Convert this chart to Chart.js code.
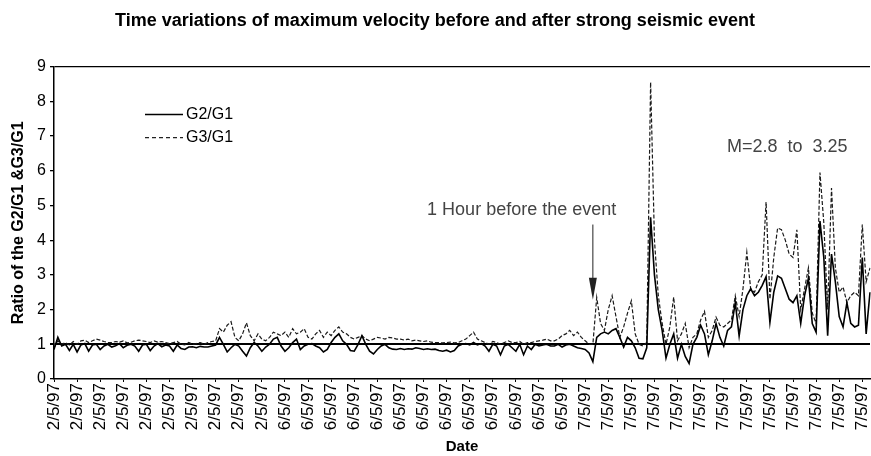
<!DOCTYPE html>
<html>
<head>
<meta charset="utf-8">
<title>Time variations of maximum velocity</title>
<script src="https://cdn.jsdelivr.net/npm/chart.js@4.4.0/dist/chart.umd.min.js"></script>
<style>
  html, body { margin: 0; padding: 0; background: #fff; }
</style>
</head>
<body>
<canvas id="velocityChart" width="871" height="456"></canvas>
<script>
// tick labels along the date axis (one every 6 samples)
const tickDates = [
  '2/5/97','2/5/97','2/5/97','2/5/97','2/5/97','2/5/97','2/5/97','2/5/97','2/5/97','2/5/97',
  '6/5/97','6/5/97','6/5/97','6/5/97','6/5/97','6/5/97','6/5/97','6/5/97','6/5/97','6/5/97','6/5/97','6/5/97','6/5/97',
  '7/5/97','7/5/97','7/5/97','7/5/97','7/5/97','7/5/97','7/5/97','7/5/97','7/5/97','7/5/97','7/5/97','7/5/97','7/5/97'
];
const samplesPerTick = 6;

// G2/G1 ratio
const g2g1 = [
  0.85, 1.2, 0.95, 1.0, 0.82, 1.0, 0.78, 0.98, 1.02, 0.8,
  0.98, 1.0, 0.85, 0.95, 1.0, 0.92, 0.96, 1.02, 0.9, 0.97,
  1.0, 0.95, 0.8, 0.98, 1.0, 0.82, 0.95, 1.02, 0.93, 0.98,
  0.95, 0.8, 0.98, 0.88, 0.85, 0.92, 0.93, 0.9, 0.94, 0.92,
  0.92, 0.95, 0.98, 1.2, 1.0, 0.78, 0.9, 1.0, 0.95, 0.8,
  0.66, 0.9, 1.05, 0.95, 0.8, 0.92, 1.0, 1.15, 1.2, 0.95,
  0.8, 0.9, 1.05, 1.15, 0.85, 0.95, 1.0, 1.02, 0.95, 0.9,
  0.78, 0.85, 1.05, 1.2, 1.3, 1.1, 1.0, 0.82, 0.8, 1.0,
  1.25, 1.0, 0.8, 0.72, 0.85, 0.95, 1.0, 0.9, 0.86, 0.85,
  0.88, 0.85, 0.87, 0.86, 0.9, 0.88, 0.85, 0.87, 0.85, 0.86,
  0.82, 0.8, 0.83, 0.78, 0.82, 0.95, 1.0, 1.02, 0.98, 1.05,
  0.98, 1.02, 0.95, 0.8, 1.0, 0.95, 0.7, 0.95, 1.0, 0.9,
  0.8, 1.0, 0.7, 0.95, 0.85, 1.0, 0.95, 0.98, 1.0, 0.95,
  0.95, 1.0, 0.92, 0.98, 1.0, 0.95, 0.9, 0.88, 0.85, 0.75,
  0.5, 1.2, 1.3, 1.35, 1.3, 1.4, 1.45, 1.2, 0.92, 1.2,
  1.1, 0.9, 0.6, 0.58, 0.9, 4.66, 3.0, 2.0, 1.4, 0.6,
  1.0, 1.3, 0.6, 1.0, 0.65, 0.45, 1.0, 1.2, 1.55, 1.3,
  0.7, 1.1, 1.6, 1.2, 0.95, 1.4, 1.5, 2.2, 1.24, 2.0,
  2.4, 2.6, 2.4, 2.5, 2.7, 2.95, 1.63, 2.5, 2.97, 2.9,
  2.6, 2.3, 2.2, 2.4, 1.6, 2.4, 2.9, 1.6, 1.35, 4.55,
  3.5, 1.25, 3.6, 2.8, 1.8, 1.5, 2.2, 1.6, 1.5, 1.55,
  3.5, 1.3, 2.5
];

// G3/G1 ratio
const g3g1 = [
  0.9, 1.1, 1.0, 1.05, 0.98, 1.08, 1.0, 1.1, 1.12, 1.05,
  1.1, 1.15, 1.12, 1.08, 1.05, 1.05, 1.08, 1.06, 1.1, 1.04,
  1.06, 1.1, 1.12, 1.1, 1.08, 1.05, 1.1, 1.06, 1.08, 1.05,
  1.02, 1.05, 1.08, 1.0, 0.98, 1.05, 1.0, 1.02, 1.05, 1.0,
  1.05, 1.08, 1.1, 1.45, 1.35, 1.55, 1.65, 1.2, 1.1, 1.3,
  1.62, 1.25, 1.1, 1.3, 1.15, 1.1, 1.2, 1.35, 1.3, 1.25,
  1.35, 1.2, 1.45, 1.3, 1.35, 1.45, 1.2, 1.15, 1.3, 1.4,
  1.2, 1.35, 1.25, 1.4, 1.5, 1.35, 1.3, 1.2, 1.15, 1.2,
  1.25, 1.15, 1.1, 1.15, 1.2, 1.18, 1.15, 1.2, 1.18, 1.15,
  1.15, 1.12, 1.15, 1.1, 1.12, 1.1, 1.08, 1.1, 1.06, 1.05,
  1.05, 1.04, 1.05, 1.06, 1.04, 1.05, 1.1, 1.15, 1.25, 1.35,
  1.15, 1.1, 1.05, 1.0, 1.08, 1.05, 1.0, 1.05, 1.1, 1.05,
  1.05, 1.08, 1.0, 1.05, 1.05, 1.08, 1.1, 1.12, 1.15, 1.1,
  1.1, 1.15, 1.25, 1.3, 1.4, 1.25, 1.35, 1.2, 1.1, 1.0,
  1.0, 2.35, 1.6, 1.4, 2.0, 2.4, 1.8, 1.2, 1.5, 1.9,
  2.25, 1.3, 1.0, 0.95, 1.05, 8.55, 4.0, 2.4, 1.6, 1.0,
  1.5, 2.36, 1.1, 1.3, 1.6, 0.9, 1.2, 1.3, 1.7, 1.95,
  1.2, 1.4, 1.78, 1.55, 1.5, 1.6, 1.7, 2.4, 1.8, 2.6,
  3.65, 2.6, 2.5, 2.8, 3.0, 5.1, 2.3, 3.5, 4.35, 4.3,
  4.0, 3.6, 3.5, 4.3, 2.0, 2.6, 3.2, 1.9, 1.6, 5.95,
  4.5, 2.0, 5.5, 3.2, 2.5, 2.65, 2.2, 2.4, 2.5, 2.4,
  4.45, 2.8, 3.2
];

// annotations
const eventNote = '1 Hour before the event';
const eventIndex = 140;
const magnitudeNote = 'M=2.8  to  3.25';

const FONT = "'Liberation Sans', Arial, sans-serif";

// one date per sample, taken from the tick it belongs to
const sampleDates = g2g1.map((v, i) => tickDates[Math.min(Math.floor(i / samplesPerTick), tickDates.length - 1)]);

const notesPlugin = {
  id: 'notes',
  afterDatasetsDraw(chart) {
    const {ctx, chartArea, scales} = chart;
    const x = scales.x, y = scales.y;
    ctx.save();

    // legend inside the plot
    const lx = chartArea.left + 91, ly = chartArea.top + 48;
    ctx.strokeStyle = '#000';
    ctx.lineWidth = 1.5;
    ctx.beginPath(); ctx.moveTo(lx, ly); ctx.lineTo(lx + 38, ly); ctx.stroke();
    ctx.strokeStyle = '#222';
    ctx.lineWidth = 1.2;
    ctx.setLineDash([4, 3]);
    ctx.beginPath(); ctx.moveTo(lx, ly + 23); ctx.lineTo(lx + 38, ly + 23); ctx.stroke();
    ctx.setLineDash([]);
    ctx.fillStyle = '#000';
    ctx.font = '16px ' + FONT;
    ctx.textBaseline = 'middle';
    ctx.textAlign = 'left';
    ctx.fillText('G2/G1', lx + 41, ly);
    ctx.fillText('G3/G1', lx + 41, ly + 23);

    // arrow pointing at the sample one hour before the event
    const ax = x.getPixelForValue(eventIndex);
    const top = y.getPixelForValue(4.45);
    const tip = y.getPixelForValue(2.28);
    ctx.strokeStyle = '#222';
    ctx.lineWidth = 1;
    ctx.beginPath(); ctx.moveTo(ax, top); ctx.lineTo(ax, tip - 20); ctx.stroke();
    ctx.fillStyle = '#222';
    ctx.beginPath();
    ctx.moveTo(ax - 4, tip - 22);
    ctx.lineTo(ax + 4, tip - 22);
    ctx.lineTo(ax, tip);
    ctx.closePath();
    ctx.fill();

    ctx.fillStyle = '#444';
    ctx.font = '18px ' + FONT;
    ctx.textAlign = 'center';
    ctx.fillText(eventNote, x.getPixelForValue(121.5), y.getPixelForValue(4.87));
    ctx.fillText(magnitudeNote, x.getPixelForValue(190.5), y.getPixelForValue(6.69));
    ctx.restore();
  }
};

const ctx = document.getElementById('velocityChart');
const chart = new Chart(ctx, {
  type: 'line',
  data: {
    labels: sampleDates,
    datasets: [
      { label: 'G2/G1', data: g2g1, borderColor: '#000', borderWidth: 1.6, pointRadius: 0, tension: 0 },
      { label: 'G3/G1', data: g3g1, borderColor: '#1a1a1a', borderWidth: 1.2, borderDash: [4, 2], pointRadius: 0, tension: 0 }
    ]
  },
  options: {
    responsive: false,
    animation: false,
    layout: { padding: { left: 0, right: 1, top: 0, bottom: 0 } },
    plugins: {
      legend: { display: false },
      tooltip: { enabled: false },
      title: {
        display: true,
        text: 'Time variations of maximum velocity before and after strong seismic event',
        color: '#000',
        font: { family: FONT, size: 18, weight: 'bold' },
        padding: { top: 10, bottom: 35 }
      }
    },
    scales: {
      x: {
        type: 'category',
        offset: false,
        afterBuildTicks: (s) => { s.ticks = s.ticks.filter((t) => t.value % samplesPerTick === 0); },
        afterFit: (s) => { s.height = 77; s.paddingLeft = 0; s.paddingRight = 0; },
        ticks: {
          autoSkip: false,
          maxRotation: 90,
          minRotation: 90,
          padding: 1,
          color: '#000',
          font: { family: FONT, size: 17 }
        },
        grid: { drawOnChartArea: false, tickLength: 3, tickColor: '#000' },
        border: { color: '#000', width: 1.5 },
        title: {
          display: true,
          text: 'Date',
          color: '#000',
          font: { family: FONT, size: 15, weight: 'bold' },
          padding: { top: 0, bottom: 0 }
        }
      },
      y: {
        min: 0,
        max: 9,
        afterFit: (s) => { s.width = 54; },
        ticks: {
          stepSize: 1,
          padding: 4,
          color: '#000',
          font: { family: FONT, size: 16 }
        },
        grid: {
          color: (c) => (c.tick && (c.tick.value === 1 || c.tick.value === 9)) ? '#000' : 'rgba(0,0,0,0)',
          lineWidth: (c) => (c.tick && c.tick.value === 1) ? 2 : 1.3,
          tickLength: 4,
          tickColor: '#000'
        },
        border: { color: '#000', width: 1.5 },
        title: {
          display: true,
          text: 'Ratio of the G2/G1 &G3/G1',
          color: '#000',
          font: { family: FONT, size: 16, weight: 'bold' },
          padding: { top: 9, bottom: 0 }
        }
      }
    }
  },
  plugins: [notesPlugin]
});
</script>
</body>
</html>
